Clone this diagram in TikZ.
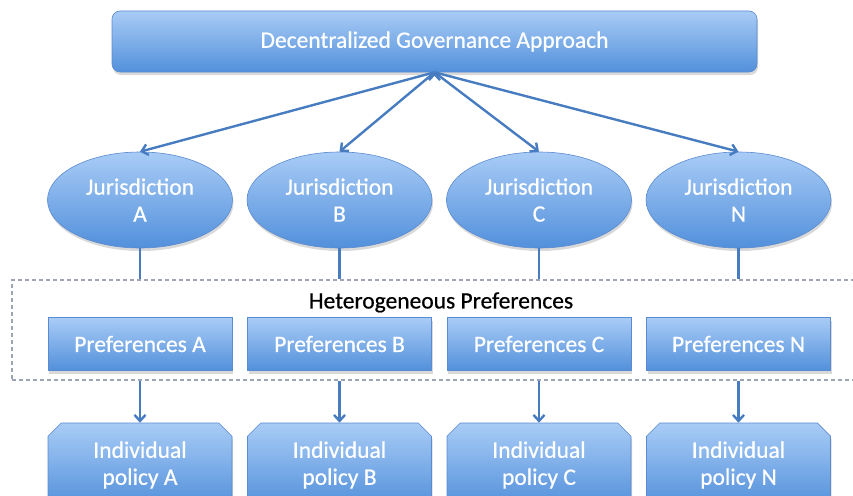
\documentclass[tikz,border=0pt]{standalone}
\usepackage{fontspec}
\setmainfont[FakeBold=0.6]{Carlito}
\usetikzlibrary{positioning,shapes.geometric,shapes.misc,shadows,arrows.meta}

\definecolor{boxtop}{HTML}{A9CCF6}
\definecolor{boxbot}{HTML}{5290DB}
\definecolor{boxline}{HTML}{5A8AD0}
\definecolor{arrowblue}{HTML}{477CC0}
\definecolor{dashgray}{HTML}{9DA5B3}

\tikzset{
  bluefill/.style={top color=boxtop, bottom color=boxbot, draw=boxline, line width=0.6pt,
    text=white, align=center,
    drop shadow={opacity=0.3, shadow xshift=1pt, shadow yshift=-3pt}},
  topbox/.style={bluefill, rounded corners=8pt, minimum width=645pt, minimum height=61pt},
  juris/.style={bluefill, ellipse, minimum width=185pt, minimum height=96pt, inner sep=0pt},
  prefbox/.style={bluefill, rectangle, minimum width=184pt, minimum height=53pt},
  policybox/.style={bluefill, chamfered rectangle, chamfered rectangle corners={north west,north east},
    chamfered rectangle xsep=10pt, minimum width=184pt, minimum height=84pt},
  link/.style={draw=arrowblue, line width=2.4pt},
  hetbox/.style={draw=dashgray, line width=1.2pt, dash pattern=on 4pt off 3pt,
    minimum width=858pt, minimum height=100pt},
}

\begin{document}
\begin{tikzpicture}[x=1pt,y=1pt,node distance=199.5pt,on grid,
    font=\fontsize{23.5}{27}\selectfont]
  \useasboundingbox (0,0) rectangle (853,-495);
  \clip (0,0) rectangle (853,-495);

  \node[topbox] (top) at (434.5,-41.5) {Decentralized Governance Approach};

  \node[juris] (jA) at (140,-200) {Jurisdiction\\A};
  \node[juris] (jB) [right=of jA] {Jurisdiction\\B};
  \node[juris] (jC) [right=of jB] {Jurisdiction\\C};
  \node[juris] (jN) [right=of jC] {Jurisdiction\\N};

  \node[hetbox] (het) at (441,-330) {};
  \node (hetlabel) at ([yshift=-23pt]het.north) {Heterogeneous Preferences};

  \node[prefbox] (pA) [below=144pt of jA] {Preferences A};
  \node[prefbox] (pB) [below=144pt of jB] {Preferences B};
  \node[prefbox] (pC) [below=144pt of jC] {Preferences C};
  \node[prefbox] (pN) [below=144pt of jN] {Preferences N};

  \node[policybox] (polA) [below=121pt of pA] {Individual\\policy A};
  \node[policybox] (polB) [below=121pt of pB] {Individual\\policy B};
  \node[policybox] (polC) [below=121pt of pC] {Individual\\policy C};
  \node[policybox] (polN) [below=121pt of pN] {Individual\\policy N};

  \path[link,-{Straight Barb[length=6pt,width=11pt]}]
    (top.south) edge (jA.north)
                edge (jB.north)
                edge (jC.north)
                edge (jN.north);

  \foreach \n in {A,B,C,N} {
    \draw[link] (j\n.south) -- (j\n |- het.north);
    \draw[link,-{Straight Barb[length=6pt,width=11pt]}] (p\n |- het.south) -- (pol\n.north);
  }
\end{tikzpicture}
\end{document}
